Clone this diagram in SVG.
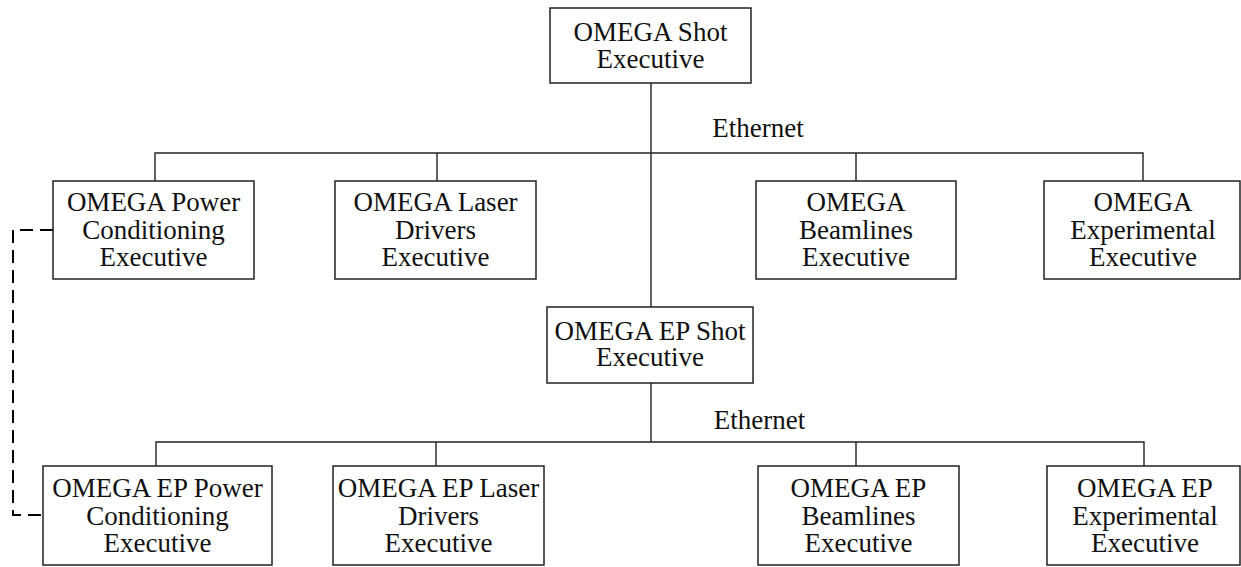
<svg xmlns="http://www.w3.org/2000/svg" width="1241" height="567" viewBox="0 0 1241 567">
<style>
.box{fill:#fff;stroke:#222;stroke-width:1.5}
.ln{fill:none;stroke:#222;stroke-width:1.4}
.dash{fill:none;stroke:#000;stroke-width:2;stroke-dasharray:13 7}
text{font-family:"Liberation Serif","Times New Roman",serif;font-size:27px;fill:#111;text-anchor:middle}
</style>
<rect width="1241" height="567" fill="#fff"/>
<g id="connectors">
<path class="ln" d="M651,83 V307 M155,181 V153 H1143 V181 M437,153 V181 M856,153 V181"/>
<path class="ln" d="M651,383 V442 M156,466 V442 H1144 V466 M436,442 V466 M856,442 V466"/>
<path class="dash" d="M53,230 H13 V515 H43"/>
<text x="758" y="137">Ethernet</text>
<text x="759.5" y="429">Ethernet</text>
</g>
<g id="shot">
<rect class="box" x="550" y="8" width="201" height="75"/>
<text x="650.5" y="41">OMEGA Shot</text>
<text x="650.5" y="68">Executive</text>
</g>
<g id="power">
<rect class="box" x="53" y="181" width="201" height="98"/>
<text x="153.5" y="211">OMEGA Power</text>
<text x="153.5" y="238.5">Conditioning</text>
<text x="153.5" y="266">Executive</text>
</g>
<g id="laser">
<rect class="box" x="335" y="181" width="201" height="98"/>
<text x="435.5" y="211">OMEGA Laser</text>
<text x="435.5" y="238.5">Drivers</text>
<text x="435.5" y="266">Executive</text>
</g>
<g id="beamlines">
<rect class="box" x="756" y="181" width="200" height="98"/>
<text x="856" y="211">OMEGA</text>
<text x="856" y="238.5">Beamlines</text>
<text x="856" y="266">Executive</text>
</g>
<g id="experimental">
<rect class="box" x="1044" y="181" width="196" height="98"/>
<text x="1143" y="211">OMEGA</text>
<text x="1143" y="238.5">Experimental</text>
<text x="1143" y="266">Executive</text>
</g>
<g id="epshot">
<rect class="box" x="547" y="307" width="206" height="76"/>
<text x="650" y="339.5">OMEGA EP Shot</text>
<text x="650" y="366">Executive</text>
</g>
<g id="eppower">
<rect class="box" x="43" y="466" width="229" height="99"/>
<text x="157.5" y="497">OMEGA EP Power</text>
<text x="157.5" y="524.5">Conditioning</text>
<text x="157.5" y="552">Executive</text>
</g>
<g id="eplaser">
<rect class="box" x="333" y="466" width="211" height="99"/>
<text x="438.5" y="497">OMEGA EP Laser</text>
<text x="438.5" y="524.5">Drivers</text>
<text x="438.5" y="552">Executive</text>
</g>
<g id="epbeamlines">
<rect class="box" x="758" y="466" width="201" height="99"/>
<text x="858.5" y="497">OMEGA EP</text>
<text x="858.5" y="524.5">Beamlines</text>
<text x="858.5" y="552">Executive</text>
</g>
<g id="epexperimental">
<rect class="box" x="1047" y="466" width="193" height="99"/>
<text x="1145" y="497">OMEGA EP</text>
<text x="1145" y="524.5">Experimental</text>
<text x="1145" y="552">Executive</text>
</g>
</svg>
